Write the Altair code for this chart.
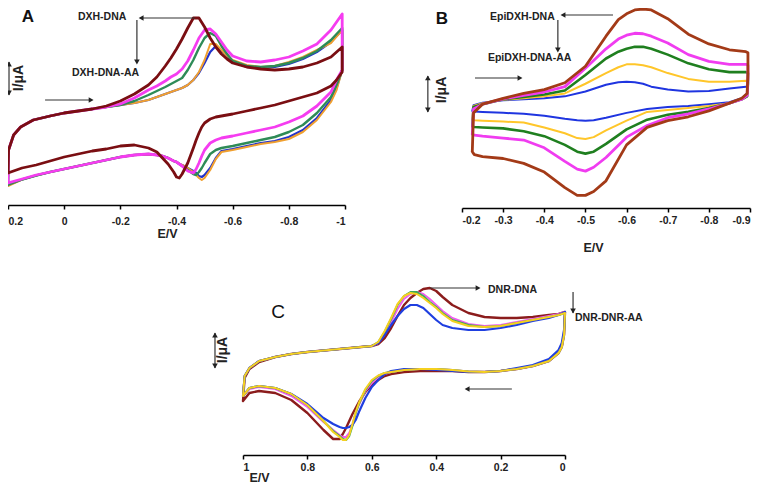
import altair as alt
import pandas as pd

FONT = "Liberation Sans"

# ---------------- Panel A (DXH) ----------------
A_ticks = [0.2, 0, -0.2, -0.4, -0.6, -0.8, -1]
A_up_E = [0.2, 0.198, 0.18, 0.155, 0.11, 0.05, 0.0, -0.05, -0.1, -0.15, -0.2, -0.25, -0.3, -0.33,
          -0.36, -0.38, -0.4, -0.42, -0.44, -0.46, -0.48, -0.5, -0.52, -0.54, -0.56, -0.58, -0.6,
          -0.65, -0.7, -0.75, -0.8, -0.85, -0.9, -0.95, -0.99]
A_dn_E = [-0.99, -0.97, -0.95, -0.9, -0.85, -0.8, -0.75, -0.7, -0.65, -0.6, -0.56, -0.54, -0.52,
          -0.5, -0.49, -0.48, -0.47, -0.46, -0.44, -0.42, -0.41, -0.4, -0.39, -0.37, -0.35, -0.33,
          -0.3, -0.25, -0.2, -0.15, -0.1, -0.05, 0.0, 0.05, 0.1, 0.15, 0.2]
A_brown_up = [32, 55, 70, 78, 85, 89, 92, 94, 96, 99, 104, 111, 120, 128, 139, 147, 156, 166, 177, 187,
              187, 178, 167, 158, 151, 146, 142, 138, 136, 135, 136, 138, 142, 148, 158]
A_brown_dn = [133, 125, 119, 112, 108, 104, 100, 97, 94, 91, 89, 88, 86, 82, 78, 72, 65, 57, 42, 31,
              27, 28, 33, 41, 47, 53, 57, 60, 59, 56, 54, 51, 48, 44, 40, 37, 32]
A_magenta_up = [22, 55, 70, 78, 85, 89, 92, 94, 96, 98, 101, 107, 115, 119, 124, 128, 131, 136, 144, 155,
                167, 175, 176, 171, 163, 155, 149, 144, 143, 145, 148, 154, 161, 175, 191]
A_magenta_dn = [135, 125, 113, 99, 89, 83, 78, 75, 72, 69, 67, 65, 62, 55, 49, 42, 36, 32, 34, 39, 41,
                43, 44, 47, 49, 50, 51, 50, 48, 45, 42, 39, 36, 33, 30, 26, 22]
A_green_up = [20, 55, 70, 78, 85, 89, 92, 94, 96, 98, 100, 104, 110, 114, 118, 121, 124, 127, 135, 145,
              157, 167, 172, 169, 159, 151, 144, 139, 138, 139, 142, 147, 154, 165, 177]
A_green_dn = [135, 120, 108, 92, 80, 73, 68, 65, 62, 59, 57, 55, 51, 42, 37, 33, 30, 31, 35, 39, 41, 43,
              44, 47, 49, 50, 51, 50, 48, 45, 42, 39, 36, 33, 29.5, 25.5, 20]
A_blue_up = [20, 55, 70, 78, 85, 89, 92, 94, 96, 98, 100, 102, 105, 108, 111, 113, 115, 117, 120, 125,
             132, 142, 153, 159, 154, 149, 143, 138, 137, 138, 141, 146, 153, 163, 175]
A_blue_dn = [135, 117, 105, 87, 75, 68, 64, 62, 59, 56, 54, 47, 37, 30, 28, 29, 32, 34, 37, 40, 41, 43,
             44, 47, 49, 50, 50.5, 50, 48, 45, 42, 39, 36, 33, 29.5, 25.5, 20]
A_orange_up = [19, 55, 70, 78, 85, 89, 92, 94, 96, 98, 100, 102, 105, 108, 111, 113, 115, 117, 120, 125,
               133, 145, 161, 161, 155, 149, 145, 140, 138, 139, 143, 148, 155, 162, 175]
A_orange_dn = [135, 115, 103, 85, 73, 66, 63, 61, 58, 55, 53, 46, 35, 27, 25, 27, 30, 33, 37, 40, 41, 43,
               44, 47, 49, 50, 50.5, 50, 48, 45, 42, 39, 36, 33, 29.5, 25.5, 19]

# ---------------- Panel B (EpiDXH) ----------------
B_ticks = [-0.2, -0.3, -0.4, -0.5, -0.6, -0.7, -0.8, -0.9]
B_up_E = [-0.225, -0.228, -0.25, -0.3, -0.35, -0.4, -0.45, -0.5, -0.55, -0.58, -0.6, -0.62, -0.64,
          -0.66, -0.7, -0.75, -0.8, -0.85, -0.89, -0.895]
B_dn_E = [-0.895, -0.893, -0.88, -0.85, -0.8, -0.75, -0.7, -0.65, -0.6, -0.55, -0.52, -0.5, -0.48,
          -0.45, -0.4, -0.35, -0.3, -0.25, -0.23, -0.225]
B_brown_up = [58, 98, 107, 113, 118, 122, 129, 146, 177, 194, 200, 204, 205, 204, 195, 179, 169, 163, 161, 160]
B_brown_dn = [138, 118, 113, 108, 100, 94, 90, 83, 65, 28, 17, 13, 13, 21, 37, 46, 51, 53, 55, 58]
B_magenta_up = [76, 102, 107, 112.5, 116, 119.5, 125, 144, 164, 174, 178, 180, 179.5, 177, 170, 158, 151, 148, 148, 147]
B_magenta_dn = [133, 116, 112, 108, 102, 97, 93, 85, 73, 52, 42, 38, 40, 48, 62, 70, 72, 74, 75, 76]
B_green_up = [84, 104, 107, 112, 114.5, 117, 121, 137, 154, 161, 164, 166, 166, 164, 158, 149, 143, 140, 140, 139]
B_green_dn = [128, 115, 112, 108, 103, 99, 96, 91, 81, 66, 58, 56, 58, 65, 74, 79, 82, 83, 83.5, 84]
B_yellow_up = [91, 105, 108, 111.5, 113, 115, 118, 128, 139, 145, 148, 148, 147, 145, 139, 133, 130, 130, 131, 130]
B_yellow_dn = [126, 115, 112, 108, 105, 103, 101, 99, 90, 80, 73, 71, 72, 77, 83, 88, 89, 90, 90.5, 91]
B_blue_up = [100, 106, 108.5, 111, 112, 113, 115, 120, 127, 129.5, 130, 129.5, 128, 125, 122, 120, 120.5, 123, 125, 125]
B_blue_dn = [124, 118, 113, 109, 107, 105, 104, 102, 98, 93, 90.5, 90, 90.5, 92, 95, 97, 98, 99, 99.5, 100]

# ---------------- Panel C (DNR) ----------------
C_ticks = [1, 0.8, 0.6, 0.4, 0.2, 0]
C_up_E = [1.0, 0.995, 0.98, 0.95, 0.9, 0.85, 0.8, 0.7, 0.6, 0.58, 0.56, 0.54, 0.52, 0.5, 0.48, 0.46,
          0.44, 0.42, 0.4, 0.38, 0.35, 0.3, 0.25, 0.2, 0.15, 0.1, 0.05, 0.02, 0.0]
C_dn_E = [0.0, 0.003, 0.01, 0.02, 0.05, 0.1, 0.15, 0.2, 0.25, 0.3, 0.35, 0.4, 0.45, 0.5, 0.54, 0.56,
          0.58, 0.6, 0.62, 0.64, 0.65, 0.66, 0.67, 0.68, 0.69, 0.7, 0.72, 0.75, 0.8, 0.85, 0.9, 0.95, 0.98, 1.0]
C_brown_up = [54, 77, 86, 93, 98, 101, 103, 106, 109, 111, 117, 127, 139, 150, 157, 162, 166, 167, 164,
              158, 150, 142, 138, 137, 137, 138, 140, 141, 143]
C_brown_dn = [143, 120, 108, 102, 94, 89, 86, 84, 83, 83, 84, 84, 84, 83, 81, 79, 75, 70, 63, 53, 47, 41,
              34, 27, 21, 16, 16, 25, 42, 55, 62, 64, 62, 54]
C_magenta_up = [59, 79, 87, 94, 98, 101, 103, 106, 109, 112, 121, 133, 146, 156, 161, 163, 161, 156, 150,
                144, 137, 131, 129, 130, 133, 136, 139, 141, 143]
C_magenta_dn = [143, 120, 108, 102, 94, 89, 86, 84, 83, 83.5, 85, 86, 86, 85, 83, 81, 78, 72, 64, 50, 42,
                31, 22, 18, 18, 20, 25, 33, 48, 59, 66, 68, 66, 59]
C_green_up = [59, 79, 87, 94, 98, 101, 103, 106, 109, 113, 123, 136, 150, 159, 163, 163, 159, 153, 148,
              142, 135, 130, 128, 129, 132, 135, 138, 140, 142]
C_green_dn = [142, 120, 108, 102, 94, 89, 86, 84, 83, 83.5, 85, 86, 86, 85, 83, 82, 79, 74, 65, 51, 42,
              29, 19, 15, 16, 19, 24, 34, 50, 61, 67, 69, 67, 59]
C_yellow_up = [59, 79, 87, 94, 98, 101, 103, 106, 109, 113, 124, 137, 151, 159, 162, 161, 157, 152, 147,
               141, 134, 129, 128, 129, 132, 135, 138, 140, 142]
C_yellow_dn = [142, 120, 108, 102, 94, 89, 86, 84, 83, 83.5, 85, 86, 86, 85, 83, 82, 79.5, 75, 66, 52,
               43, 31, 20, 15, 15, 18, 23, 34, 50, 61, 67, 69, 67, 59]
C_blue_up = [59, 79, 87, 94, 98, 101, 103, 106, 109, 112, 120, 130, 139, 146, 150, 150, 147, 141, 135,
             130, 127, 125, 125, 127, 130, 134, 137, 140, 143]
C_blue_dn = [143, 125, 112, 105, 96, 90, 87, 84, 83, 83, 84, 85, 86, 86, 84, 81, 75, 68, 57, 43, 35, 30,
             28, 27, 27, 28, 31, 37, 51, 61, 67, 69, 67, 59]

# ---------------- Annotations (data coordinates) ----------------
A_letter = ("A", 0.129, 188)
A_notes_t = ["DXH-DNA", "DXH-DNA-AA"]
A_notes_E = [-0.049, -0.028]
A_notes_I = [188, 132]
A_ylab = (0.160, 127)
A_line_E1 = [-0.466, -0.259, 0.068, 0.1964]
A_line_I1 = [187, 185, 105, 143]
A_line_E2 = [-0.274, -0.259, -0.096, 0.1964]
A_line_I2 = [187, 143, 105, 110]
A_head_E = [-0.274, -0.259, -0.096, 0.1964, 0.1964]
A_head_I = [187, 143, 105, 141, 112]
A_head_s = ["triangle-left", "triangle-down", "triangle-right", "triangle-up", "triangle-down"]

B_letter = ("B", -0.151, 194.5)
B_notes_t = ["EpiDXH-DNA", "EpiDXH-DNA-AA"]
B_notes_E = [-0.268, -0.263]
B_notes_I = [196.5, 154.5]
B_ylab = (-0.151, 121.6)
B_line_E1 = [-0.567, -0.433, -0.2316, -0.117]
B_line_I1 = [198.8, 193.7, 133.9, 136]
B_line_E2 = [-0.4455, -0.433, -0.341, -0.117]
B_line_I2 = [198.8, 162.8, 133.9, 98.9]
B_head_E = [-0.4455, -0.433, -0.341, -0.117, -0.117]
B_head_I = [198.8, 162.8, 133.9, 134, 101]
B_head_s = ["triangle-left", "triangle-down", "triangle-right", "triangle-up", "triangle-down"]

C_letter = ("C", 0.891, 143)
C_notes_t = ["DNR-DNA", "DNR-DNR-AA"]
C_notes_E = [0.239, -0.031]
C_notes_I = [165, 137]
C_ylab = (1.062, 105)
C_line_E1 = [0.419, -0.025, 0.165, 1.087]
C_line_I1 = [167, 163, 66, 122]
C_line_E2 = [0.270, -0.025, 0.304, 1.087]
C_line_I2 = [167, 142, 66, 87]
C_head_E = [0.270, -0.025, 0.304, 1.087, 1.087]
C_head_I = [167, 144, 66, 120, 89]
C_head_s = ["triangle-right", "triangle-down", "triangle-left", "triangle-up", "triangle-down"]

LBL = ("datum.value == 0 ? '0' : (datum.value < 0 ? '-' + format(-datum.value, '~g') "
       ": format(datum.value, '~g'))")


def make_axis(ticks, offset, title_x, title_y, label_pad, flush):
    kw = dict(orient="bottom", offset=offset, values=ticks, labelExpr=LBL, title="E/V",
              titleX=title_x, titleY=title_y, titleBaseline="middle", titleAlign="center",
              tickSize=4, labelPadding=label_pad, grid=False, domainColor="black",
              domainWidth=1.5, tickColor="black", tickWidth=1.5, labelFont=FONT,
              labelFontSize=10.5, labelFontWeight="bold", labelColor="#222",
              titleFont=FONT, titleFontSize=12.5, titleFontWeight="bold", titleColor="#222",
              labelOverlap=False)
    if flush:
        kw["labelFlush"] = True
    return alt.Axis(**kw)


def build_panel(xs, ys, ax, curves, letter, letter_bold, notes, ylab, lines, heads, note_size):
    def X(f):
        return alt.X(f, type="quantitative", scale=xs, axis=ax)

    def Y(f):
        return alt.Y(f, type="quantitative", scale=ys, axis=None)

    layers = []
    for up_E, up_I, dn_E, dn_I, color, width in curves:
        df = pd.DataFrame({"E": list(up_E) + list(dn_E), "I": list(up_I) + list(dn_I)})
        df["k"] = range(len(df))
        layers.append(
            alt.Chart(df).mark_line(color=color, strokeWidth=width, strokeJoin="round",
                                    strokeCap="round")
            .encode(x=X("E"), y=Y("I"), order=alt.Order("k:Q"))
        )
    ldf = pd.DataFrame({"E1": lines[0], "I1": lines[1], "E2": lines[2], "I2": lines[3]})
    layers.append(
        alt.Chart(ldf).mark_rule(color="#333", strokeWidth=1.2)
        .encode(x=X("E1"), x2=alt.X2("E2"), y=Y("I1"), y2=alt.Y2("I2"))
    )
    hdf = pd.DataFrame({"E": heads[0], "I": heads[1], "s": heads[2]})
    layers.append(
        alt.Chart(hdf).mark_point(filled=True, color="#222", size=32, opacity=1)
        .encode(x=X("E"), y=Y("I"), shape=alt.Shape("s:N", scale=None))
    )
    tdf = pd.DataFrame({"E": notes[1], "I": notes[2], "t": notes[0]})
    layers.append(
        alt.Chart(tdf).mark_text(align="left", baseline="middle", font=FONT, fontSize=note_size,
                                 fontWeight="bold", color="#222")
        .encode(x=X("E"), y=Y("I"), text="t:N")
    )
    let_df = pd.DataFrame({"E": [letter[1]], "I": [letter[2]], "t": [letter[0]]})
    layers.append(
        alt.Chart(let_df).mark_text(align="center", baseline="middle", font=FONT,
                                    fontSize=17 if letter_bold else 19,
                                    fontWeight="bold" if letter_bold else "normal", color="#111")
        .encode(x=X("E"), y=Y("I"), text="t:N")
    )
    y_df = pd.DataFrame({"E": [ylab[0]], "I": [ylab[1]], "t": ["I/μA"]})
    layers.append(
        alt.Chart(y_df).mark_text(align="center", baseline="middle", font=FONT, fontSize=14,
                                  fontWeight="bold", angle=270, color="#222")
        .encode(x=X("E"), y=Y("I"), text="t:N")
    )
    return alt.layer(*layers)


# scales: chart pixel = page pixel - 8
xsA = alt.Scale(domain=[0.2, -1], range=[0, 337], nice=False, zero=False)
ysA = alt.Scale(domain=[0, 200], range=[197, -3], nice=False, zero=False)
xsB = alt.Scale(domain=[-0.2, -0.9], range=[454, 742], nice=False, zero=False)
ysB = alt.Scale(domain=[0, 205], range=[200, 1], nice=False, zero=False)
xsC = alt.Scale(domain=[1, 0], range=[235, 557], nice=False, zero=False)
ysC = alt.Scale(domain=[0, 200], range=[447, 247], nice=False, zero=False)

axA = make_axis(A_ticks, 197 - 475, 159, 28, 7, True)
axB = make_axis(B_ticks, 200 - 475, 585, 39, 3, False)
axC = make_axis(C_ticks, 447 - 475, 251, 22, 3, False)

curvesA = [
    (A_up_E, A_blue_up, A_dn_E, A_blue_dn, "#2233CC", 2.2),
    (A_up_E, A_orange_up, A_dn_E, A_orange_dn, "#F0A030", 2.0),
    (A_up_E, A_green_up, A_dn_E, A_green_dn, "#2E8B57", 2.4),
    (A_up_E, A_magenta_up, A_dn_E, A_magenta_dn, "#F53CF0", 2.8),
    (A_up_E, A_brown_up, A_dn_E, A_brown_dn, "#7A0E12", 2.8),
]
curvesB = [
    (B_up_E, B_blue_up, B_dn_E, B_blue_dn, "#1F35E0", 2.0),
    (B_up_E, B_yellow_up, B_dn_E, B_yellow_dn, "#FFC62A", 2.0),
    (B_up_E, B_green_up, B_dn_E, B_green_dn, "#1F7F1F", 2.6),
    (B_up_E, B_magenta_up, B_dn_E, B_magenta_dn, "#F03CF0", 2.8),
    (B_up_E, B_brown_up, B_dn_E, B_brown_dn, "#A33A17", 2.8),
]
curvesC = [
    (C_up_E, C_brown_up, C_dn_E, C_brown_dn, "#8B1C1C", 2.4),
    (C_up_E, C_magenta_up, C_dn_E, C_magenta_dn, "#F25CF0", 2.0),
    (C_up_E, C_green_up, C_dn_E, C_green_dn, "#3DAA5A", 2.0),
    (C_up_E, C_blue_up, C_dn_E, C_blue_dn, "#1F3FE0", 2.2),
    (C_up_E, C_yellow_up, C_dn_E, C_yellow_dn, "#F5D020", 2.0),
]

pA = build_panel(xsA, ysA, axA, curvesA, A_letter, True, (A_notes_t, A_notes_E, A_notes_I), A_ylab,
                 (A_line_E1, A_line_I1, A_line_E2, A_line_I2), (A_head_E, A_head_I, A_head_s), 10.5)
pB = build_panel(xsB, ysB, axB, curvesB, B_letter, True, (B_notes_t, B_notes_E, B_notes_I), B_ylab,
                 (B_line_E1, B_line_I1, B_line_E2, B_line_I2), (B_head_E, B_head_I, B_head_s), 10.5)
pC = build_panel(xsC, ysC, axC, curvesC, C_letter, False, (C_notes_t, C_notes_E, C_notes_I), C_ylab,
                 (C_line_E1, C_line_I1, C_line_E2, C_line_I2), (C_head_E, C_head_I, C_head_s), 10.5)

chart = (
    alt.layer(pA, pB, pC)
    .resolve_scale(x="independent", y="independent")
    .properties(width=744, height=475, padding=0, autosize=alt.AutoSizeParams(type="none"),
                background="white")
    .configure_view(stroke=None)
)

chart.save("out.html", embed_options={"renderer": "svg", "actions": False})
